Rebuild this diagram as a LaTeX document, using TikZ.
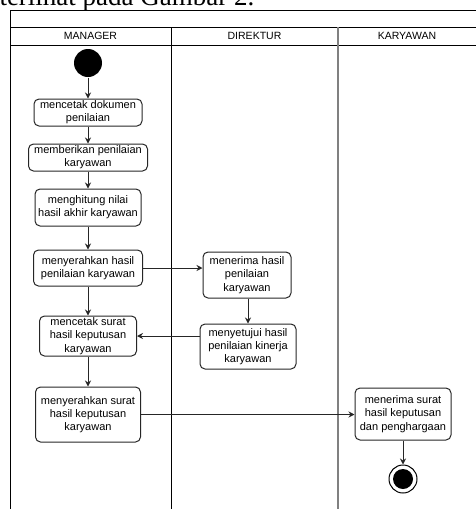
\documentclass[tikz,border=0pt]{standalone}
\usepackage{fontspec}
\setmainfont{Liberation Sans}
\newfontfamily\timesfont{Liberation Serif}
\usetikzlibrary{arrows.meta,positioning}

\begin{document}
\begin{tikzpicture}[x=1pt,y=-1pt,line width=1pt,
  every node/.style={font=\fontsize{11}{13.3}\selectfont,inner sep=1pt},
  act/.style={draw=black!85,rounded corners=5pt,align=center},
  lane/.style={font=\fontsize{10.5}{12}\selectfont},
  arr/.style={draw=black!85,-{Stealth[length=6pt,width=6pt]}}]
\useasboundingbox (0,0) rectangle (476,509);
\clip (0,0) rectangle (476,509);

% text of the page above the figure
\node[anchor=base west,inner sep=0pt,font=\timesfont\fontsize{27}{27}\selectfont] (cap) at (-1,5) {terlihat pada Gambar 2.};

% swimlane frame
\draw (480,10) -- (10,10) -- (10,512);
\draw (10,27) -- (480,27);
\draw (10,45) -- (480,45);
\draw (171,27) -- (171,512);
\draw[black!50,line width=1.5pt] (338,27) -- (338,512);
\node[lane] (m) at (90.5,36) {MANAGER};
\node[lane] (d) at (254.5,36) {DIREKTUR};
\node[lane] (k) at (407,36) {KARYAWAN};

% activities
\node[circle,fill=black,minimum size=28pt,inner sep=0pt] (0) at (88,63) {};
\node[act,minimum width=108pt,minimum height=27pt] (1) at (88,112.5) {mencetak dokumen\\penilaian};
\node[act,minimum width=119pt,minimum height=27pt] (2) at (88,157.5) {memberikan penilaian\\karyawan};
\node[act,minimum width=106pt,minimum height=37pt] (3) at (88,207.5) {menghitung nilai\\hasil akhir karyawan};
\node[act,minimum width=109pt,minimum height=36pt] (4) at (88,268) {menyerahkan hasil\\penilaian karyawan};
\node[act,minimum width=97pt,minimum height=40pt] (5) at (88,336) {mencetak surat\\hasil keputusan\\karyawan};
\node[act,minimum width=105pt,minimum height=55pt] (6) at (88,414.5) {menyerahkan surat\\hasil keputusan\\karyawan};
\node[act,minimum width=88pt,minimum height=46pt] (7) at (247,275) {menerima hasil\\penilaian\\karyawan};
\node[act,minimum width=96pt,minimum height=45pt] (8) at (248,346.5) {menyetujui hasil\\penilaian kinerja\\karyawan};
\node[act,minimum width=96pt,minimum height=52pt] (9) at (403,414) {menerima surat\\hasil keputusan\\dan penghargaan};
\node[circle,draw,fill=white,minimum size=28pt,inner sep=0pt] (10) at (403,479) {};
\node[circle,fill=black,minimum size=20pt,inner sep=0pt] (11) at (403,479) {};

% flow
\draw[arr] (0) -- (1);
\draw[arr] (1) -- (2);
\draw[arr] (2) -- (3);
\draw[arr] (3) -- (4);
\draw[arr] (4) -- (5);
\draw[arr] (5) -- (6);
\draw[arr] (4.east) -- (4.east -| 7.west);
\draw[arr] (7.south -| 8.north) -- (8.north);
\draw[arr] (8.west |- 5.east) -- (5.east);
\draw[arr] (6.east) -- (6.east -| 9.west);
\draw[arr] (9) -- (10);

\end{tikzpicture}
\end{document}
